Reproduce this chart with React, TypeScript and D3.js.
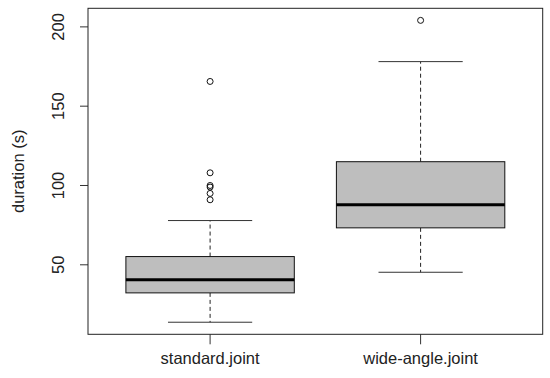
import React from "react";
import * as d3 from "d3";

// groups and their five-number summaries
const groups = ["standard.joint", "wide-angle.joint"];
const lowerWhisker = [13.8, 45.3];
const q1 = [32.3, 73.3];
const median = [40.5, 87.9];
const q3 = [55.2, 115];
const upperWhisker = [77.9, 178.1];
const outliers = [
  [91, 95, 99, 100, 108, 165.6],
  [204.1],
];
const yTicks = [50, 100, 150, 200];

const W = 550;
const H = 378;
const margin = { top: 8.3, right: 7.3, bottom: 43.7, left: 88 };

export default function App() {
  const innerW = W - margin.left - margin.right;
  const innerH = H - margin.top - margin.bottom;

  // R style: range padded by 4% of data range
  const all = [...lowerWhisker, ...upperWhisker, ...outliers.flat()];
  const lo = d3.min(all) as number;
  const hi = d3.max(all) as number;
  const pad = (hi - lo) * 0.04;

  const y = d3.scaleLinear().domain([lo - pad, hi + pad]).range([innerH, 0]);
  const x = d3
    .scaleBand()
    .domain(groups)
    .range([0, innerW])
    .paddingInner(0.2)
    .paddingOuter(0.18);

  const bw = x.bandwidth();
  const font = "'Liberation Sans', Arial, sans-serif";

  return (
    <svg
      width={W}
      height={H}
      style={{ position: "absolute", left: 0, top: 0, background: "#fff" }}
      fontFamily={font}
    >
      <g transform={`translate(${margin.left},${margin.top})`}>
        {groups.map((g, i) => {
          const cx = (x(g) as number) + bw / 2;
          return (
            <g key={g}>
              {/* whiskers */}
              <line
                x1={cx}
                x2={cx}
                y1={y(q3[i])}
                y2={y(upperWhisker[i])}
                stroke="#222"
                strokeDasharray="4,3"
              />
              <line
                x1={cx}
                x2={cx}
                y1={y(q1[i])}
                y2={y(lowerWhisker[i])}
                stroke="#222"
                strokeDasharray="4,3"
              />
              <line
                x1={cx - bw / 4}
                x2={cx + bw / 4}
                y1={y(upperWhisker[i])}
                y2={y(upperWhisker[i])}
                stroke="#333"
              />
              <line
                x1={cx - bw / 4}
                x2={cx + bw / 4}
                y1={y(lowerWhisker[i])}
                y2={y(lowerWhisker[i])}
                stroke="#333"
              />
              {/* box */}
              <rect
                x={x(g)}
                y={y(q3[i])}
                width={bw}
                height={y(q1[i]) - y(q3[i])}
                fill="#bebebe"
                stroke="#111"
              />
              <line
                x1={x(g)}
                x2={(x(g) as number) + bw}
                y1={y(median[i])}
                y2={y(median[i])}
                stroke="#000"
                strokeWidth={3}
              />
              {outliers[i].map((v, j) => (
                <circle
                  key={j}
                  cx={cx}
                  cy={y(v)}
                  r={3}
                  fill="none"
                  stroke="#111"
                />
              ))}
              {/* x tick and label */}
              <line
                x1={cx}
                x2={cx}
                y1={innerH}
                y2={innerH + 10}
                stroke="#333"
              />
              <text
                x={cx}
                y={innerH + 30}
                textAnchor="middle"
                fontSize={16.5}
                fill="#222"
              >
                {g}
              </text>
            </g>
          );
        })}

        {/* y axis */}
        {yTicks.map((t) => (
          <g key={t}>
            <line x1={-8} x2={0} y1={y(t)} y2={y(t)} stroke="#333" />
            <text
              transform={`translate(-24,${y(t)}) rotate(-90)`}
              textAnchor="middle"
              fontSize={16.5}
              fill="#222"
            >
              {t}
            </text>
          </g>
        ))}

        <rect
          x={0}
          y={0}
          width={innerW}
          height={innerH}
          fill="none"
          stroke="#222"
        />
      </g>
      <text
        transform={`translate(23.5,${margin.top + innerH / 2}) rotate(-90)`}
        textAnchor="middle"
        fontSize={16.5}
        fill="#222"
      >
        duration (s)
      </text>
    </svg>
  );
}
